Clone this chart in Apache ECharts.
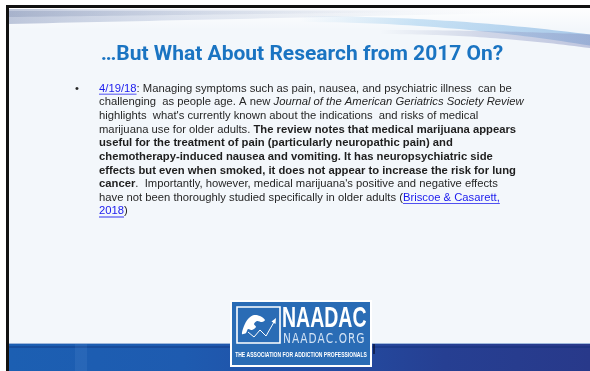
<!DOCTYPE html>
<html><head><meta charset="utf-8">
<script src="https://cdn.jsdelivr.net/npm/echarts@6/dist/echarts.min.js"></script>
<style>html,body{margin:0;padding:0;background:#fff}#c{width:590px;height:371px}</style>
</head><body><div id="c"></div>
<script>
const titleText = '\u2026But What About Research from 2017 On?';
const bodyLines = [
  [['link', '4/19/18'], ['n', ': Managing symptoms such as pain, nausea, and psychiatric illness  can be']],
  [['n', 'challenging  as people age. A new '], ['i', 'Journal of the American Geriatrics Society Review']],
  [['n', "highlights  what's currently known about the indications  and risks of medical"]],
  [['n', 'marijuana use for older adults. '], ['b', 'The review notes that medical marijuana appears']],
  [['b', 'useful for the treatment of pain (particularly neuropathic pain) and']],
  [['b', 'chemotherapy-induced nausea and vomiting. It has neuropsychiatric side']],
  [['b', 'effects but even when smoked, it does not appear to increase the risk for lung']],
  [['b', 'cancer'], ['n', ".  Importantly, however, medical marijuana's positive and negative effects"]],
  [['n', 'have not been thoroughly studied specifically in older adults ('], ['link', 'Briscoe & Casarett,']],
  [['link', '2018'], ['n', ')']]
];
const logoName = 'NAADAC';
const logoUrl = 'NAADAC.ORG';
const logoTag = 'THE ASSOCIATION FOR ADDICTION PROFESSIONALS';

const FS = 11.25;
const FAM = '"Liberation Sans", Arial, sans-serif';
const fontOf = {
  n: FS + 'px ' + FAM,
  link: FS + 'px ' + FAM,
  b: 'bold ' + FS + 'px ' + FAM,
  i: 'italic ' + FS + 'px ' + FAM
};
const colorOf = { n: '#262626', b: '#1e1e1e', i: '#262626', link: '#1a1aee' };
const ctx = document.createElement('canvas').getContext('2d');
function tw(font, s) { ctx.font = font; return ctx.measureText(s).width; }

const g = [];
// slide background
g.push({ type: 'rect', shape: { x: 0, y: 0, width: 590, height: 371 }, style: { fill: '#ffffff' }, silent: true });
g.push({ type: 'rect', shape: { x: 8, y: 7, width: 582, height: 364 }, style: { fill: '#f3f7fb' }, silent: true });

// decorative swooshes at top
function band(x0, x1, topF, botF, fill) {
  const pts = [];
  const n = 40;
  for (let k = 0; k <= n; k++) { const x = x0 + (x1 - x0) * k / n; pts.push([x, topF(x)]); }
  for (let k = n; k >= 0; k--) { const x = x0 + (x1 - x0) * k / n; pts.push([x, botF(x)]); }
  return { type: 'polygon', shape: { points: pts }, style: { fill: fill }, silent: true };
}
function lg(stops) { return new echarts.graphic.LinearGradient(0, 0, 1, 0, stops.map(s => ({ offset: s[0], color: s[1] }))); }
function lgv(stops) { return new echarts.graphic.LinearGradient(0, 0, 0, 1, stops.map(s => ({ offset: s[0], color: s[1] }))); }
// white haze top
g.push(band(8, 590, x => 8, x => 30, lgv([[0, 'rgba(255,255,255,0.9)'], [1, 'rgba(255,255,255,0)']])));
// gray streak top-left
g.push(band(8, 520, x => 9 + 0.002 * (x - 8), x => 24 - 0.022 * (x - 8), lg([[0, 'rgba(140,155,190,0.55)'], [0.35, 'rgba(165,180,210,0.32)'], [0.8, 'rgba(190,200,220,0.1)'], [1, 'rgba(200,210,225,0)']])));
g.push(band(8, 420, x => 11, x => 17 - 0.012 * (x - 8), lg([[0, 'rgba(125,140,175,0.35)'], [0.6, 'rgba(150,165,195,0.15)'], [1, 'rgba(180,190,210,0)']])));
// light blue streak top-right
g.push(band(300, 590, x => 16 + 0.00022 * (x - 300) * (x - 300), x => 22 + 0.00028 * (x - 300) * (x - 300), lg([[0, 'rgba(150,200,235,0)'], [0.4, 'rgba(140,195,235,0.45)'], [1, 'rgba(120,170,220,0.6)']])));
// gray-blue band right
g.push(band(380, 590, x => 30 + 0.0001 * (x - 380) * (x - 380), x => 34 + 0.00032 * (x - 380) * (x - 380), lg([[0, 'rgba(150,160,195,0)'], [0.5, 'rgba(150,160,200,0.38)'], [1, 'rgba(140,150,195,0.5)']])));

// borders
g.push({ type: 'rect', shape: { x: 6, y: 5, width: 584, height: 3 }, style: { fill: '#111' }, silent: true });
g.push({ type: 'rect', shape: { x: 6, y: 5, width: 3, height: 366 }, style: { fill: '#111' }, silent: true });

// bottom band
g.push({ type: 'rect', shape: { x: 9, y: 343, width: 581, height: 28 }, style: { fill: lg([[0, '#1c5fb2'], [0.3, '#1e5bb0'], [0.5, '#2250a6'], [0.75, '#263f92'], [1, '#28398a']]) }, silent: true });
g.push({ type: 'rect', shape: { x: 9, y: 343, width: 581, height: 1 }, style: { fill: '#9fb8dc' }, silent: true });
g.push({ type: 'rect', shape: { x: 9, y: 346, width: 581, height: 2 }, style: { fill: 'rgba(10,40,110,0.3)' }, silent: true });
g.push({ type: 'rect', shape: { x: 75, y: 344, width: 12, height: 27 }, style: { fill: 'rgba(120,170,230,0.12)' }, silent: true });

// title
g.push({ type: 'text', x: 302, y: 55, style: { text: titleText, font: 'bold 21px Roboto, "Liberation Sans", sans-serif', fill: '#1a74c2', align: 'center', verticalAlign: 'middle' }, silent: true });

// bullet
g.push({ type: 'text', x: 77, y: 88.5, style: { text: '\u2022', font: FS + 'px ' + FAM, fill: '#262626', align: 'center', verticalAlign: 'middle' }, silent: true });

// body text
const X0 = 99, Y0 = 92.5, LH = 13.65;
bodyLines.forEach((line, i) => {
  let x = X0;
  const base = Y0 + i * LH;
  line.forEach(seg => {
    const kind = seg[0], s = seg[1];
    const f = fontOf[kind];
    const w = tw(f, s);
    g.push({ type: 'text', x: x, y: base - 4, style: { text: s, font: f, fill: colorOf[kind], align: 'left', verticalAlign: 'middle' }, silent: true });
    if (kind === 'link') {
      g.push({ type: 'rect', shape: { x: x, y: base + 1.2, width: w, height: 0.9 }, style: { fill: colorOf.link }, silent: true });
    }
    x += w;
  });
});

// logo
const LX = 230, LY = 300, LW = 142, LHt = 67;
g.push({ type: 'rect', shape: { x: LX, y: LY, width: LW, height: LHt }, style: { fill: '#ffffff' }, silent: true });
g.push({ type: 'rect', shape: { x: LX + 2, y: LY + 2, width: LW - 4, height: LHt - 4 }, style: { fill: '#2a6cb5' }, silent: true });
g.push({ type: 'rect', shape: { x: 237, y: 307, width: 43, height: 36 }, style: { fill: 'none', stroke: '#ffffff', lineWidth: 1.6 }, silent: true });
// icon: white wave/bird
g.push({ type: 'polygon', shape: { points: [[242, 334], [244, 326], [248, 319], [254, 315], [260, 316], [265, 320], [262, 322], [257, 321], [254, 324], [256, 327], [252, 330], [248, 329], [246, 333]], smooth: 0.3 }, style: { fill: '#ffffff' }, silent: true });
g.push({ type: 'polyline', shape: { points: [[248, 332], [254, 337], [260, 330], [266, 336], [274, 322]] }, style: { stroke: '#ffffff', lineWidth: 1, fill: 'none' }, silent: true });
g.push({ type: 'polygon', shape: { points: [[276, 318], [275.5, 324], [271.5, 321.5]] }, style: { fill: '#ffffff' }, silent: true });
// logo texts (condensed via scaleX)
g.push({ type: 'text', x: 282, y: 334, scaleX: 0.65, style: { text: logoName, font: 'bold 30px "Liberation Sans", sans-serif', fill: '#ffffff', align: 'left', verticalAlign: 'bottom' }, silent: true });
g.push({ type: 'text', x: 283, y: 346, scaleX: 0.78, style: { text: logoUrl.split('').join('\u200a'), font: '13.5px "DejaVu Sans", sans-serif', fill: '#d3e3f5', align: 'left', verticalAlign: 'bottom' }, silent: true });
g.push({ type: 'text', x: 301, y: 359, scaleX: 0.67, style: { text: logoTag, font: 'bold 7.5px "Liberation Sans", sans-serif', fill: '#ffffff', align: 'center', verticalAlign: 'bottom' }, silent: true });
// dark mark right of logo
g.push({ type: 'rect', shape: { x: 373, y: 344, width: 2, height: 10 }, style: { fill: 'rgba(10,20,60,0.7)' }, silent: true });

const chart = echarts.init(document.getElementById('c'), null, { renderer: 'canvas' });
chart.setOption({ animation: false, graphic: { elements: g } });
</script></body></html>
